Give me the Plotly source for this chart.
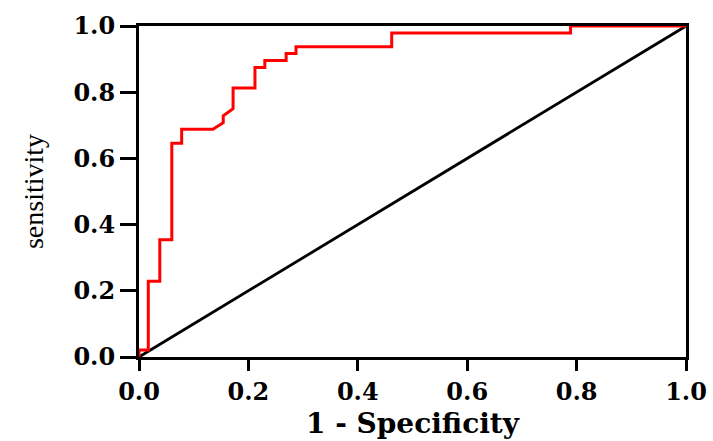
import plotly.graph_objects as go

# ROC curve points (1 - specificity, sensitivity)
fpr = [0.0, 0.0, 0.017, 0.017, 0.038, 0.038, 0.060, 0.060, 0.078, 0.078,
       0.135, 0.154, 0.154, 0.172, 0.172, 0.212, 0.212, 0.230, 0.230,
       0.269, 0.269, 0.287, 0.287, 0.462, 0.462, 0.789, 0.789, 1.0]
tpr = [0.0, 0.021, 0.021, 0.229, 0.229, 0.354, 0.354, 0.646, 0.646, 0.688,
       0.688, 0.708, 0.729, 0.750, 0.8125, 0.8125, 0.875, 0.875, 0.896,
       0.896, 0.917, 0.917, 0.9375, 0.9375, 0.979, 0.979, 1.0, 1.0]

ref_x = [0.0, 1.0]
ref_y = [0.0, 1.0]

tick_vals = [0.0, 0.2, 0.4, 0.6, 0.8, 1.0]
tick_text = ["0.0", "0.2", "0.4", "0.6", "0.8", "1.0"]

fig = go.Figure()
fig.add_trace(go.Scatter(x=ref_x, y=ref_y, mode="lines",
                         line=dict(color="black", width=2.8), showlegend=False))
fig.add_trace(go.Scatter(x=fpr, y=tpr, mode="lines",
                         line=dict(color="#ff0000", width=3), showlegend=False))

tickfont = dict(family="DejaVu Serif", size=24, color="black", weight="bold")

fig.update_layout(
    width=713, height=441,
    margin=dict(l=139, r=27, t=26, b=84),
    paper_bgcolor="white", plot_bgcolor="white",
    xaxis=dict(
        range=[0, 1], tickvals=tick_vals, ticktext=tick_text,
        showgrid=False, zeroline=False, automargin=False,
        showline=True, linecolor="black", linewidth=3, mirror=True,
        ticks="outside", ticklen=11, tickwidth=3, tickcolor="black",
        tickfont=tickfont,
        title=dict(text="1 - Specificity",
                   font=dict(family="DejaVu Serif", size=28, color="black", weight="bold"),
                   standoff=9),
    ),
    yaxis=dict(
        range=[0, 1], tickvals=tick_vals, ticktext=tick_text,
        showgrid=False, zeroline=False, automargin=False,
        showline=True, linecolor="black", linewidth=3, mirror=True,
        ticks="outside", ticklen=16, tickwidth=3, tickcolor="black",
        tickfont=tickfont,
        title=dict(text="sensitivity",
                   font=dict(family="Liberation Serif", size=28, color="black"),
                   standoff=22),
    ),
)

fig.write_html("out.html", config={"displayModeBar": False},
               post_script="document.body.style.margin='0px';document.body.style.overflow='hidden';")
